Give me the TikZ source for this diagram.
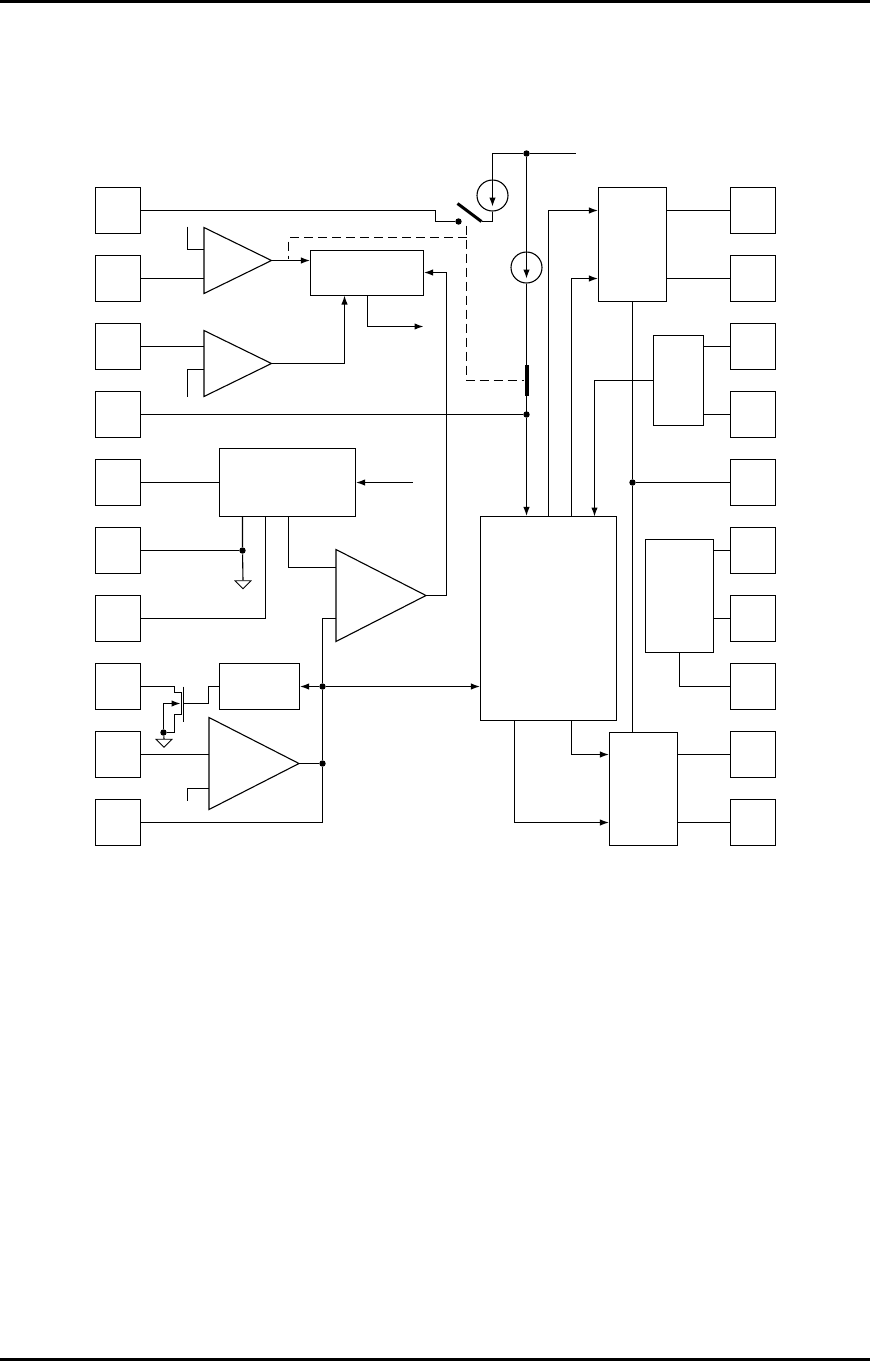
\documentclass[tikz,border=0pt]{standalone}
\usepackage{amsmath}
\usepackage{amssymb}
\usetikzlibrary{shapes.geometric, arrows.meta}
\tikzset{
    pinbox/.style = {draw, rectangle, inner sep = 0, minimum width = 22.5pt, minimum height = 23pt},
    block/.style args = {#1 by #2}{draw, rectangle, inner sep = 0, minimum width = #1*0.5pt, minimum height = #2*0.5pt},
    amp/.style args = {#1 by #2}{draw, isosceles triangle, isosceles triangle stretches, inner sep = 0, outer sep = 0,
        minimum width = #2*0.5pt, minimum height = #1*0.5pt, anchor = lower side},
    gnd/.style = {draw, isosceles triangle, isosceles triangle stretches, shape border rotate = -90, inner sep = 0,
        minimum width = 8pt, minimum height = 4pt, line width = 0.4pt},
    joint/.style = {circle, fill, inner sep = 0, minimum size = 3.2pt},
    source/.style = {draw, circle, inner sep = 0, minimum size = 15.5pt},
    arrowed/.style = {-{Latex[length = 4.5pt, width = 3.2pt]}},
    ctrlline/.style = {dash pattern = on 4.5pt off 2.5pt}
}

\begin{document}
\begin{tikzpicture}[x = 0.5pt, y = -0.5pt, line width = 0.55pt]
    \useasboundingbox (-0.5,-0.5) rectangle (869.5,1360.5);
    \fill (-0.5,-0.5) rectangle (869.5,2.5);
    \fill (-0.5,1357.5) rectangle (869.5,1360.5);

    % pins on both sides
    \foreach \y [count = \i] in {210,278,346,414,482,550,618,686,754,822} {
        \node[pinbox] (l\i) at (117.5,\y) {};
        \node[pinbox] (r\i) at (752.5,\y) {};
    }

    % blocks
    \node[block = 113 by 45] (ctrl) at (366.5,272.5) {};
    \node[block = 136 by 68] (ref) at (287,482) {};
    \node[block = 80 by 46] (drv) at (259,686) {};
    \node[block = 136 by 204] (core) at (548,618) {};
    \node[block = 68 by 114] (portA) at (632,244) {};
    \node[block = 50 by 90] (portB) at (678,380) {};
    \node[block = 68 by 113] (portC) at (679,595.5) {};
    \node[block = 68 by 113] (portD) at (643,788.5) {};

    % amplifiers
    \node[amp = 67.5 by 66] (ampA) at (203.5,260) {};
    \node[amp = 67.5 by 66] (ampB) at (203.5,363) {};
    \node[amp = 90 by 92] (ampC) at (335.5,595) {};
    \node[amp = 90 by 92] (ampD) at (208.5,763) {};

    % current sources and the bar
    \node[source] (srcA) at (492,195) {};
    \node[source] (srcB) at (526,267) {};
    \node[fill, inner sep = 0, minimum width = 2pt, minimum height = 15.5pt] (bar) at (526,380) {};

    % junctions
    \node[joint] (jTop) at (526,153) {};
    \node[joint] (jSw) at (458,221) {};
    \node[joint] (jPin) at (526,414) {};
    \node[joint] (jGnd) at (242,550) {};
    \node[joint] (jBus) at (322,686) {};
    \node[joint] (jOut) at (322,763) {};
    \node[joint] (jFet) at (163,732) {};
    \node[joint] (jClk) at (632,482) {};
    \node[gnd] (gndA) at (242.5,583.5) {};
    \node[gnd] (gndB) at (163.5,742) {};

    % free ends
    \coordinate (vcc) at (575,153);
    \coordinate (swA) at (457,203);
    \coordinate (swB) at (481,221);
    \coordinate (ctrlOut) at (423,326);
    \coordinate (refIn) at (412,482);
    \coordinate (stubA) at (187,226);
    \coordinate (stubB) at (187,396);
    \coordinate (stubD) at (187,800);

    % supply and switch
    \draw (vcc) -- (jTop) -- (srcB.north);
    \draw (jTop) -| (srcA.north);
    \draw[arrowed] (srcA.north) -- ([yshift = 2.5pt]srcA.south);
    \draw[arrowed] (srcB.north) -- ([yshift = 2.5pt]srcB.south);
    \draw (srcA.south) |- (swB);
    \draw[line width = 1.5pt] (swA) -- (swB);
    \draw (l1.east) -| (435,221) -- (jSw);
    \draw (srcB.south) -- (jPin.center);
    \draw (l4.east) -- (jPin);
    \draw[arrowed] (jPin) -- (jPin |- core.north);
    \draw[ctrlline] (466,225) |- (bar.west);
    \draw[ctrlline] (466,237) -| (288,258);

    % upper amplifiers
    \draw (stubA) |- (ampA.lower side |- 0,249);
    \draw (l2.east) -- (ampA.lower side |- l2.east);
    \draw[arrowed] (ampA.apex) -- (ampA.apex -| ctrl.west);
    \draw (l3.east) -- (ampB.lower side |- l3.east);
    \draw (stubB) |- (ampB.lower side |- 0,369);
    \draw[arrowed] (ampB.apex) -| (344,295);
    \draw[arrowed] (ampC.apex) -| (446,272) -- (ctrl.east |- 0,272);
    \draw[arrowed] (ctrl.south -| 367,0) |- (ctrlOut);

    % reference block
    \draw (l5.east) -- (ref.west |- l5.east);
    \draw[arrowed] (refIn) -- (ref.east |- refIn);
    \draw (l6.east) -- (jGnd);
    \draw (jGnd |- ref.south) -- (jGnd) -- (gndA.lower side);
    \draw (l7.east) -| (265,516);
    \draw (288,516) |- (ampC.lower side |- 0,567);

    % bus and driver
    \draw (ampC.lower side |- 0,618) -| (jBus);
    \draw (jBus) -- (jOut);
    \draw (jOut) |- (l10.east);
    \draw[arrowed] (jBus) -- (drv.east);
    \draw[arrowed] (jBus) -- (core.west |- jBus);
    \draw (ampD.apex) -- (jOut);
    \draw (l9.east) -- (ampD.lower side |- l9.east);
    \draw (stubD) |- (ampD.lower side |- 0,788);

    % transistor
    \draw (183,686) -- (183,721);
    \draw (drv.west) -- (208,686) |- (183,703);
    \draw (l8.east) -| (174,692) -| (181,714) -| (174,732) -- (jFet);
    \draw[arrowed] (jFet) |- (180,703);
    \draw (jFet) -- (gndB.lower side);

    % core to ports
    \draw[arrowed] (548,516) |- (portA.west |- l1);
    \draw[arrowed] (571,516) |- (portA.west |- l2);
    \draw[arrowed] (portB.west) -| (594,516);
    \draw[arrowed] (571,720) |- (portD.west |- l9);
    \draw[arrowed] (514,720) |- (portD.west |- l10);

    % ports to pins
    \draw (portA.south -| jClk) -- (jClk) -- (portD.north -| jClk);
    \draw (jClk) -- (r5.west);
    \draw (portA.east |- r1) -- (r1.west);
    \draw (portA.east |- r2) -- (r2.west);
    \draw (portB.east |- r3) -- (r3.west);
    \draw (portB.east |- r4) -- (r4.west);
    \draw (portC.east |- r6) -- (r6.west);
    \draw (portC.east |- r7) -- (r7.west);
    \draw (portC.south) |- (r8.west);
    \draw (portD.east |- r9) -- (r9.west);
    \draw (portD.east |- r10) -- (r10.west);
\end{tikzpicture}
\end{document}
